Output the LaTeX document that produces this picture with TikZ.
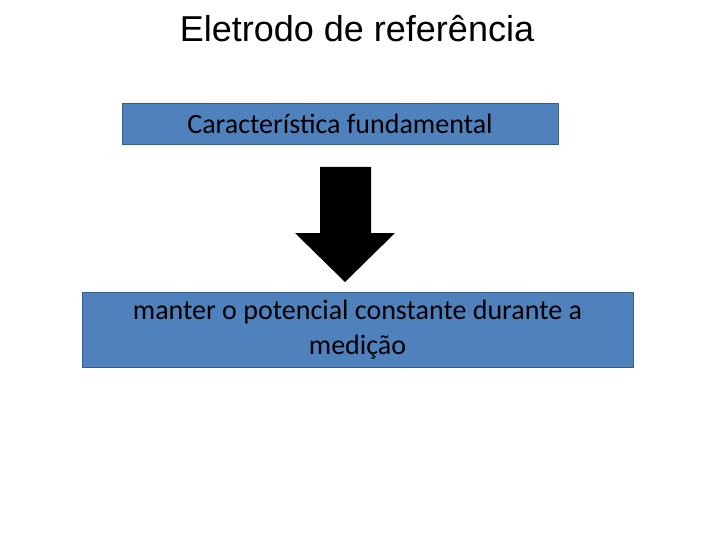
\documentclass[tikz,border=0pt]{standalone}
\usepackage{fontspec}
\setmainfont{Liberation Sans}
\newfontfamily\boxfont{Carlito}
\usetikzlibrary{positioning}

\definecolor{slideblue}{HTML}{4F81BD}
\definecolor{slideedge}{HTML}{385D8A}

\begin{document}
\begin{tikzpicture}[
  x=1pt, y=-1pt,
  box/.style={draw=slideedge, fill=slideblue, line width=0.8pt, align=center,
              inner sep=0pt, font=\boxfont\fontsize{28}{35}\selectfont},
  title/.style={font=\fontsize{36}{43}\selectfont, anchor=base}
]
\useasboundingbox (0,0) rectangle (720,540);

% title
\node[title] (head) at (357,42) {Eletrodo de referência};

% boxes
\node[box, minimum width=436pt, minimum height=41pt] (feature) at (340,124)
     {Característica fundamental};
\node[box, minimum width=551pt, minimum height=75pt] (keep) at (357.5,329.5)
     {manter o potencial constante durante a\\medição};

% block arrow
\fill[black] (320,167) -- (371,167) -- (371,233) -- (395,233) -- (345,282)
             -- (295,233) -- (320,233) -- cycle;

\end{tikzpicture}
\end{document}
